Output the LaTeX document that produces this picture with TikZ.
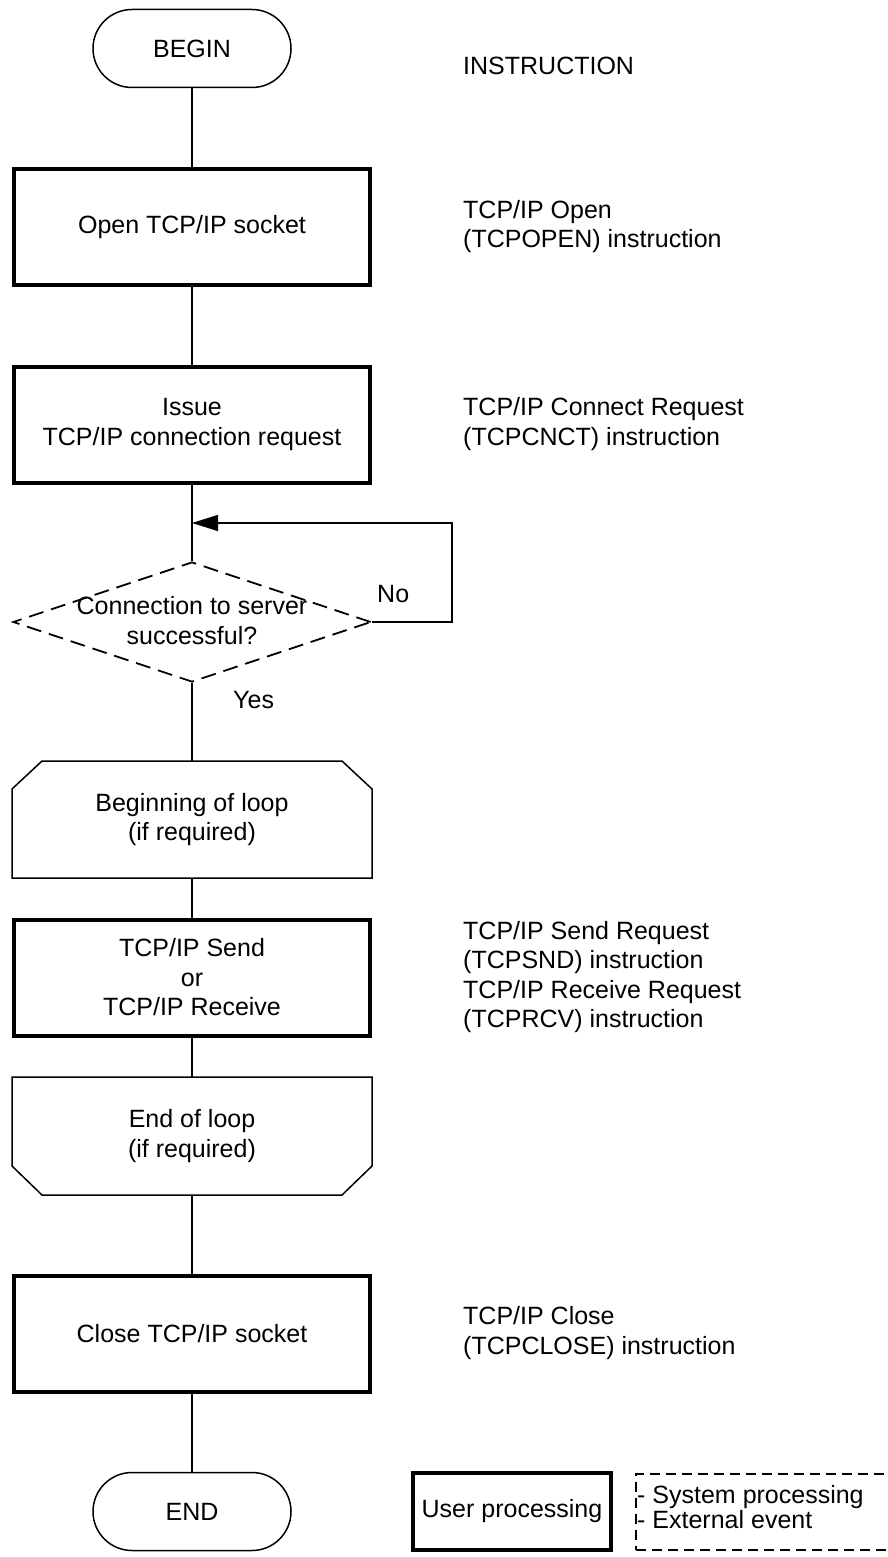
\documentclass[tikz,border=0pt]{standalone}
\usepackage{fontspec}
\setmainfont{Liberation Sans}
\usetikzlibrary{arrows.meta,shapes.geometric}
\begin{document}
\begin{tikzpicture}[x=1pt,y=-1pt,
  every node/.style={font=\fontsize{25}{29.5}\selectfont},
  conn/.style={line width=1.3pt},
  term/.style={draw, line width=1.5pt, minimum width=198pt, minimum height=78pt, rounded corners=39pt},
  userbox/.style={draw, line width=4pt, minimum width=356pt, minimum height=116pt, align=center},
  loopbox/.style={draw=none, minimum width=360pt, align=center, inner sep=0pt, outer sep=0pt},
  loopline/.style={line width=1.5pt},
  decide/.style={diamond, draw, line width=1.8pt, dash pattern=on 15pt off 8pt, minimum width=358pt, minimum height=120pt, inner sep=0pt},
  note/.style={anchor=north west, align=left, inner sep=0pt},
  arr/.style={conn, -{Triangle[length=26pt,width=16pt]}},
  legdash/.style={draw, line width=2.3pt, dash pattern=on 10pt off 6pt}
]
\useasboundingbox (0,0) rectangle (888,1557);
\clip (0,0) rectangle (888,1557);

% flow nodes
\node[term] (begin) at (192,48.5) {BEGIN};
\node[userbox] (open) at (192,227) {Open TCP/IP socket};
\node[userbox] (issue) at (192,424.5) {Issue\\TCP/IP connection request};
\node[decide] (dec) at (192,622) {};
\node (dectxt) at (192,620.5) [align=center, inner sep=0pt] {Connection to server\\successful?};
\node[loopbox, minimum height=117pt] (bloop) at (192,819.5) {Beginning of loop\\(if required)};
\node[userbox] (send) at (192,977.5) {TCP/IP Send\\or\\TCP/IP Receive};
\node[loopbox, minimum height=118pt] (eloop) at (192,1136) {End of loop\\(if required)};
\node[userbox] (close) at (192,1333.5) {Close TCP/IP socket};
\node[term] (end) at (192,1511.5) {END};

% chamfered outlines
\draw[loopline] ([xshift=30pt]bloop.north west) -- ([xshift=-30pt]bloop.north east)
  -- ([yshift=-28pt]bloop.north east) -- (bloop.south east) -- (bloop.south west)
  -- ([yshift=-28pt]bloop.north west) -- cycle;
\draw[loopline] (eloop.north west) -- (eloop.north east)
  -- ([yshift=29pt]eloop.south east) -- ([xshift=-30pt]eloop.south east)
  -- ([xshift=30pt]eloop.south west) -- ([yshift=29pt]eloop.south west) -- cycle;

% connectors
\coordinate (merge) at (192,523);
\draw[conn] (begin) -- (open);
\draw[conn] (open) -- (issue);
\draw[conn] (issue) -- (dec);
\draw[conn] (dec) -- (bloop);
\draw[conn] (bloop) -- (send);
\draw[conn] (send) -- (eloop);
\draw[conn] (eloop) -- (close);
\draw[conn] (close) -- (end);
\draw[arr] (dec.east) -- ++(80,0) |- (merge);

\node[anchor=base west, inner sep=0pt] (no) at (377,602) {No};
\node[anchor=base west, inner sep=0pt] (yes) at (233,708) {Yes};

% instruction column
\node[anchor=base west, inner sep=0pt] (instr) at (463,75) {INSTRUCTION};
\node[note] (n1) at (463,200) {TCP/IP Open\\(TCPOPEN) instruction};
\node[note] (n2) at (463,397.5) {TCP/IP Connect Request\\(TCPCNCT) instruction};
\node[note] (n3) at (463,921) {TCP/IP Send Request\\(TCPSND) instruction\\TCP/IP Receive Request\\(TCPRCV) instruction};
\node[note] (n4) at (463,1306.5) {TCP/IP Close\\(TCPCLOSE) instruction};

% legend
\node[draw, line width=4pt, minimum width=198pt, minimum height=77pt] (leguser) at (512,1511.5) {User processing};
\node[legdash, anchor=north west, minimum width=270pt, minimum height=76pt] (legsys) at (635,1473) {};
\node[note, font=\fontsize{25}{25.5}\selectfont] (legsystxt) at (637,1485) {- System processing\\- External event};
\end{tikzpicture}
\end{document}
